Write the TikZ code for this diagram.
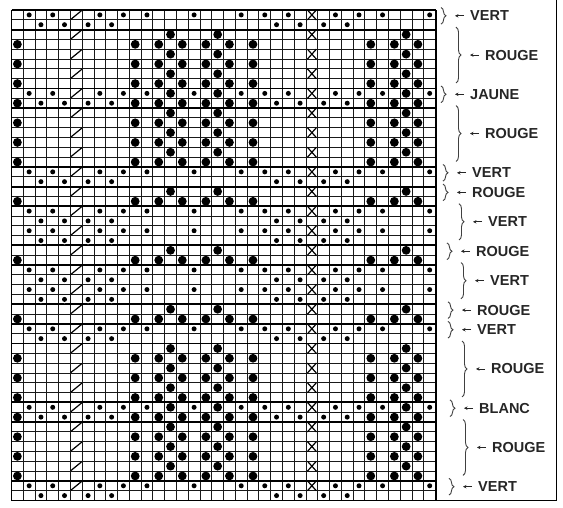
\documentclass[tikz,border=0pt]{standalone}
\usepackage{fontspec}
\setmainfont{Liberation Sans}
\usepackage{tikz}
\usetikzlibrary{arrows.meta,decorations.pathreplacing}
\newcommand{\cellw}{11.78}
\newcommand{\rowh}{9.81}
\newcommand{\gridx}{11.5}
\newcommand{\gridy}{10}

\begin{document}
\begin{tikzpicture}[
  x=1pt,y=-1pt,
  fine/.style={line width=0.85pt,draw=black!90},
  bandline/.style={line width=1.9pt,draw=black},
  bigdot/.style={fill=black},
  halo/.style={fill=white},
  crossmark/.style={line width=1.2pt,draw=black},
  slashmark/.style={line width=1.2pt,draw=black},
  bracebar/.style={decorate,decoration={brace,amplitude=5pt},line width=0.9pt,draw=black!75},
  arrow/.style={-{Stealth[length=3.5pt,width=3.5pt]},line width=0.9pt,draw=black!85},
  bandlabel/.style={anchor=west,inner sep=0pt,text=black!85,font=\fontsize{14.5}{16}\selectfont\bfseries}
]
\useasboundingbox (0,0) rectangle (563,507);
% page frame
\draw[line width=1pt] ({\gridx+36*\cellw},{\gridy+50*\rowh}) -- (556,{\gridy+50*\rowh}) -- (556,0);
% cell grid
\foreach \c in {0,...,36}
  \draw[fine] ({\gridx+\c*\cellw},\gridy) -- ({\gridx+\c*\cellw},{\gridy+50*\rowh});
\foreach \r in {0,...,50}
  \draw[fine] (\gridx,{\gridy+\r*\rowh}) -- ({\gridx+36*\cellw},{\gridy+\r*\rowh});
% colour changes
\foreach \r in {0,2,8,10,16,18,20,24,26,30,32,34,40,42,48,50}
  \draw[bandline] (\gridx,{\gridy+\r*\rowh}) -- ({\gridx+36*\cellw},{\gridy+\r*\rowh});
\draw[bandline] (\gridx,\gridy) -- (\gridx,{\gridy+50*\rowh});
\draw[bandline] ({\gridx+36*\cellw},\gridy) -- ({\gridx+36*\cellw},{\gridy+50*\rowh});
% small dots (zigzag rows)
\foreach \r in {0,1,8,9,16,17,20,21,22,23,26,27,28,29,32,33,40,41,48,49}{
  \ifodd\r \def\dotcols{2,4,6,8,22,24,26,28}\else \def\dotcols{1,3,7,9,11,15,19,21,23,27,29,31,35}\fi
  \foreach \c in \dotcols{
    \fill[halo] ({\gridx+(\c+0.5)*\cellw},{\gridy+(\r+0.5)*\rowh}) circle (3.9pt);
    \fill ({\gridx+(\c+0.5)*\cellw},{\gridy+(\r+0.5)*\rowh}) circle (2.5pt);
  }
}
% big dots (motif)
\foreach \r in {2,3,4,5,6,7,8,9,10,11,12,13,14,15,18,19,24,25,30,31,34,35,36,37,38,39,40,41,42,43,44,45,46,47}{
  \ifodd\r \def\bigcols{0,10,12,14,16,18,20,30,32,34}\else \def\bigcols{13,17,33}\fi
  \foreach \c in \bigcols
    \fill[bigdot] ({\gridx+(\c+0.5)*\cellw},{\gridy+(\r+0.5)*\rowh}) circle (4.4pt);
}
% slashes and crosses
\foreach \r in {0,2,...,48}{
  \draw[slashmark,shift={({\gridx+5.5*\cellw},{\gridy+(\r+0.5)*\rowh})}] (-5.5,4.5) -- (5.5,-4.5);
  \draw[crossmark,shift={({\gridx+25.5*\cellw},{\gridy+(\r+0.5)*\rowh})}] (-4.5,-5) -- (4.5,5) (-4.5,5) -- (4.5,-5);
}
% colour labels
\foreach \ra/\rb/\txt/\bx [count=\i] in {0/2/VERT/441, 2/8/ROUGE/456, 8/10/JAUNE/441, 10/16/ROUGE/456,
    16/18/VERT/443, 18/20/ROUGE/443, 20/24/VERT/459, 24/26/ROUGE/447, 26/30/VERT/461, 30/32/ROUGE/448,
    32/34/VERT/448, 34/40/ROUGE/462, 40/42/BLANC/450, 42/48/ROUGE/463, 48/50/VERT/449}{
  \coordinate (tip\i) at ({\bx+14},{\gridy+(\ra+\rb)/2*\rowh-4});
  \node[bandlabel] (band\i) at ({\bx+29},{\gridy+(\ra+\rb)/2*\rowh-4}) {\txt};
  \draw[bracebar] (\bx,{\gridy+\ra*\rowh-2.5}) -- (\bx,{\gridy+\rb*\rowh-5.5});
  \draw[arrow,shorten <=6pt] (band\i.west) -- (tip\i);
}
\end{tikzpicture}
\end{document}
